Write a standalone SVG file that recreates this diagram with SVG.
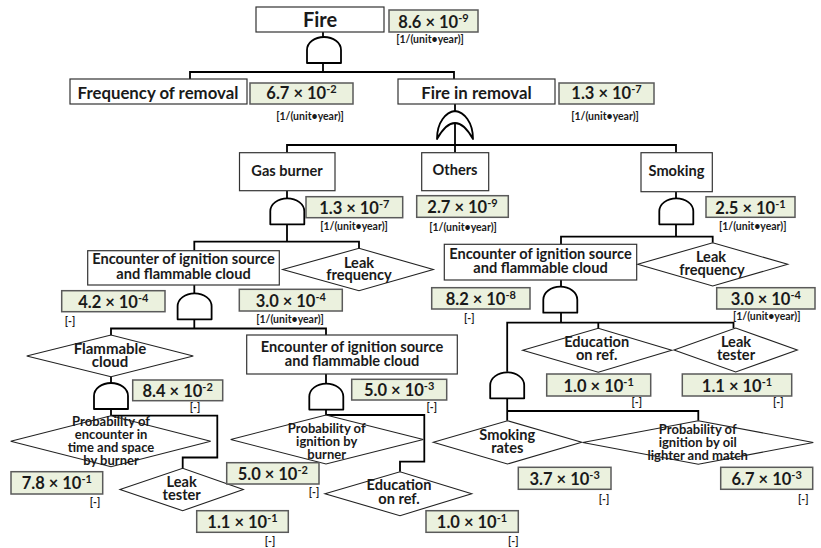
<svg xmlns="http://www.w3.org/2000/svg" width="821" height="548" viewBox="0 0 821 548">
<style>
.box{fill:#fff;stroke:#333;stroke-width:1.2}
.dia{fill:#fff;stroke:#222;stroke-width:1.1}
.val{fill:#EBF1DE;stroke:#5a5a5a;stroke-width:1.5}
.gate{fill:#fff;stroke:#000;stroke-width:1.8;stroke-linejoin:round}
.wire{fill:none;stroke:#000;stroke-width:1.8}
text{font-family:Lato,"Liberation Sans",sans-serif;font-weight:bold;text-anchor:middle;fill:#1a1a1a}
.n{font-size:14.6px}
.s{font-size:13px}
.v{font-size:16.5px}
.u{font-size:10.5px}
.big{font-size:16.8px}
</style>
<defs>
<path id="and" class="gate" d="M-17,13 V0 A17,13 0 0 1 17,0 V13 Z"/>
</defs>

<g id="connectors">
<path class="wire" d="M323,32 V38 M323,63 V72 M190,79 V72 H454 V79"/>
<path class="wire" d="M455,104 V111.5 M455,123 V152.7 M287,152.7 V145 H676 V152.7"/>
<path class="wire" d="M287,190.7 V198.3 M287,224.3 V241.7 M194.3,250.7 V241.7 H359 V248.3"/>
<path class="wire" d="M194.3,285 V293.3 M194.3,319.3 V328.5 M111,335 V328.5 H326 V335"/>
<path class="wire" d="M111,376.7 V383.3 M111,409 V415.7 H217.3 V457.5 H182.7 V468.3"/>
<path class="wire" d="M326,374 V384 M326,409.3 V415 H424.3 V461.7 H400 V471.7"/>
<path class="wire" d="M676,191.7 V198.3 M676,224.3 V236.7 M561,244.3 V236.7 H712.7 V242.7"/>
<path class="wire" d="M561,280 V286.7 M561,312.7 V322.7 M507.2,371.7 V322.7 H733.5 V328.3 M598.3,322.7 V328.3"/>
<path class="wire" d="M507.2,398.3 V411 M507.2,420.7 V411 H698.3 V420.7"/>
</g>

<g id="gates">
<use href="#and" x="324" y="50"/>
<path class="gate" d="M437,139 C437,122 446,112 455,111 C464,112 473,122 473,139 Q455,107 437,139 Z"/>
<use href="#and" x="287.3" y="211.3"/>
<use href="#and" x="676.3" y="211.3"/>
<use href="#and" x="194.6" y="306.3"/>
<use href="#and" x="560.3" y="299.7"/>
<use href="#and" x="111" y="396"/>
<use href="#and" x="326.3" y="396.6"/>
<use href="#and" x="507.2" y="385.3"/>
</g>

<g id="fire">
<rect class="box" x="256" y="7" width="128" height="25"/>
<text x="320" y="26.7" style="font-size:20px">Fire</text>
</g>
<g id="v-fire">
<rect class="val" x="389" y="10" width="89" height="22"/>
<text class="v" x="433.5" y="27.5">8.6 × 10<tspan font-size="11" dy="-6">-9</tspan></text>
<text class="u" x="430" y="43">[1/(unit•year)]</text>
</g>

<g id="freq-removal">
<rect class="box" x="70" y="79" width="177" height="25"/>
<text class="big" x="158" y="98.5">Frequency of removal</text>
</g>
<g id="v-freq-removal">
<rect class="val" x="250" y="83" width="103" height="21"/>
<text class="v" x="301.5" y="99">6.7 × 10<tspan font-size="11" dy="-6">-2</tspan></text>
<text class="u" x="310" y="119.5">[1/(unit•year)]</text>
</g>

<g id="fire-in-removal">
<rect class="box" x="398" y="79" width="157" height="25"/>
<text class="big" x="476.5" y="98.5">Fire in removal</text>
</g>
<g id="v-fire-in-removal">
<rect class="val" x="559" y="83" width="95" height="21"/>
<text class="v" x="606.5" y="99">1.3 × 10<tspan font-size="11" dy="-6">-7</tspan></text>
<text class="u" x="605" y="119.5">[1/(unit•year)]</text>
</g>

<g id="gas-burner">
<rect class="box" x="239.5" y="152.7" width="95.5" height="38"/>
<text class="n" x="287" y="175.5">Gas burner</text>
</g>
<g id="v-gas-burner">
<rect class="val" x="306" y="196.7" width="96.7" height="21"/>
<text class="v" x="354.3" y="213.5">1.3 × 10<tspan font-size="11" dy="-6">-7</tspan></text>
<text class="u" x="354" y="230">[1/(unit•year)]</text>
</g>

<g id="others">
<rect class="box" x="421.7" y="152.7" width="67" height="38"/>
<text class="n" x="455" y="175">Others</text>
</g>
<g id="v-others">
<rect class="val" x="416.7" y="195.7" width="91.6" height="21.6"/>
<text class="v" x="462.5" y="213">2.7 × 10<tspan font-size="11" dy="-6">-9</tspan></text>
<text class="u" x="463" y="231">[1/(unit•year)]</text>
</g>

<g id="smoking">
<rect class="box" x="641" y="152.7" width="71.3" height="39"/>
<text class="n" x="676.5" y="175.5">Smoking</text>
</g>
<g id="v-smoking">
<rect class="val" x="706" y="196.7" width="89" height="20.6"/>
<text class="v" x="750.5" y="213.5">2.5 × 10<tspan font-size="11" dy="-6">-1</tspan></text>
<text class="u" x="752.7" y="230">[1/(unit•year)]</text>
</g>

<g id="enc-gas">
<rect class="box" x="87.7" y="250.7" width="191.6" height="34.3"/>
<text class="n" x="183.5" y="264">Encounter of ignition source</text>
<text class="n" x="183.5" y="278.5">and flammable cloud</text>
</g>
<g id="v-enc-gas">
<rect class="val" x="61.7" y="290.7" width="103.3" height="21"/>
<text class="v" x="113.3" y="308">4.2 × 10<tspan font-size="11" dy="-6">-4</tspan></text>
<text class="u" x="70" y="325">[-]</text>
</g>

<g id="leak-freq-gas">
<polygon class="dia" points="282.7,269.5 359,248.3 433.3,269.5 359,290.7"/>
<text class="n" x="359" y="267.5">Leak</text>
<text class="n" x="359" y="280">frequency</text>
</g>
<g id="v-leak-freq-gas">
<rect class="val" x="239.3" y="289.3" width="103" height="21.7"/>
<text class="v" x="290.8" y="307">3.0 × 10<tspan font-size="11" dy="-6">-4</tspan></text>
<text class="u" x="290" y="323">[1/(unit•year)]</text>
</g>

<g id="enc-smoking">
<rect class="box" x="444.3" y="244.3" width="192.4" height="35.7"/>
<text class="n" x="540.5" y="259">Encounter of ignition source</text>
<text class="n" x="540.5" y="273">and flammable cloud</text>
</g>
<g id="v-enc-smoking">
<rect class="val" x="431.7" y="287.7" width="98.3" height="21.3"/>
<text class="v" x="480.8" y="305">8.2 × 10<tspan font-size="11" dy="-6">-8</tspan></text>
<text class="u" x="469.3" y="322">[-]</text>
</g>

<g id="leak-freq-smoking">
<polygon class="dia" points="637.7,264.3 712.7,242.7 787.7,264.3 712.7,286"/>
<text class="n" x="711" y="262">Leak</text>
<text class="n" x="712" y="275">frequency</text>
</g>
<g id="v-leak-freq-smoking">
<rect class="val" x="716.7" y="287.7" width="98.3" height="21.3"/>
<text class="v" x="765.8" y="305">3.0 × 10<tspan font-size="11" dy="-6">-4</tspan></text>
<text class="u" x="766.7" y="320">[1/(unit•year)]</text>
</g>

<g id="flammable-cloud">
<polygon class="dia" points="26.7,356 111,335 193.3,356 111,376.7"/>
<text x="110" y="353.5" style="font-size:15px">Flammable</text>
<text x="110" y="367" style="font-size:15px">cloud</text>
</g>
<g id="v-flammable-cloud">
<rect class="val" x="132.7" y="380" width="90" height="20.7"/>
<text class="v" x="177.7" y="396.5">8.4 × 10<tspan font-size="11" dy="-6">-2</tspan></text>
<text class="u" x="195" y="411">[-]</text>
</g>

<g id="prob-encounter">
<polygon class="dia" points="10.7,441.2 111,415.7 210.7,441.2 111,466.7"/>
<text class="s" x="111" y="425.5">Probability of</text>
<text class="s" x="111" y="438.8">encounter in</text>
<text class="s" x="111" y="452.1">time and space</text>
<text class="s" x="111" y="465.4">by burner</text>
</g>
<g id="v-prob-encounter">
<rect class="val" x="11" y="471.7" width="91.7" height="22.3"/>
<text class="v" x="56.8" y="488.5">7.8 × 10<tspan font-size="11" dy="-6">-1</tspan></text>
<text class="u" x="95" y="505.5">[-]</text>
</g>

<g id="leak-tester-gas">
<polygon class="dia" points="120,489.5 182.7,468.3 243.3,489.5 182.7,510.7"/>
<text class="n" x="181.7" y="486.5">Leak</text>
<text class="n" x="181.7" y="500">tester</text>
</g>
<g id="v-leak-tester-gas">
<rect class="val" x="196.7" y="510.7" width="91.6" height="21.6"/>
<text class="v" x="242.5" y="527.5">1.1 × 10<tspan font-size="11" dy="-6">-1</tspan></text>
<text class="u" x="270" y="545">[-]</text>
</g>

<g id="enc-burner">
<rect class="box" x="246.7" y="335" width="210.6" height="39"/>
<text class="n" x="352" y="352">Encounter of ignition source</text>
<text class="n" x="352" y="365.5">and flammable cloud</text>
</g>
<g id="v-enc-burner">
<rect class="val" x="351.7" y="379.3" width="95" height="20.7"/>
<text class="v" x="399.2" y="396">5.0 × 10<tspan font-size="11" dy="-6">-3</tspan></text>
<text class="u" x="431.7" y="411">[-]</text>
</g>

<g id="prob-ignition-burner">
<polygon class="dia" points="230.7,439.5 326,415 423.3,439.5 326,464"/>
<text class="s" x="326.7" y="432.5">Probability of</text>
<text class="s" x="326.7" y="446">ignition by</text>
<text class="s" x="326.7" y="459">burner</text>
</g>
<g id="v-prob-ignition-burner">
<rect class="val" x="226.7" y="462.7" width="92.3" height="21.3"/>
<text class="v" x="272.8" y="480">5.0 × 10<tspan font-size="11" dy="-6">-2</tspan></text>
<text class="u" x="314" y="496">[-]</text>
</g>

<g id="education-gas">
<polygon class="dia" points="325,493.7 400,471.7 471.7,493.7 400,515.7"/>
<text class="n" x="399" y="490">Education</text>
<text class="n" x="399" y="503.5">on ref.</text>
</g>
<g id="v-education-gas">
<rect class="val" x="426" y="510.7" width="92.3" height="21.6"/>
<text class="v" x="472" y="527.5">1.0 × 10<tspan font-size="11" dy="-6">-1</tspan></text>
<text class="u" x="513.3" y="545">[-]</text>
</g>

<g id="education-smoking">
<polygon class="dia" points="522.7,350.3 598.3,328.3 671.7,350.3 598.3,372.3"/>
<text class="n" x="596.7" y="347">Education</text>
<text class="n" x="596.7" y="360">on ref.</text>
</g>
<g id="v-education-smoking">
<rect class="val" x="546.7" y="374" width="104" height="22"/>
<text class="v" x="598.7" y="391.5">1.0 × 10<tspan font-size="11" dy="-6">-1</tspan></text>
<text class="u" x="636.7" y="406">[-]</text>
</g>

<g id="leak-tester-smoking">
<polygon class="dia" points="674,350 735.7,328 797.3,350 735.7,372"/>
<text class="n" x="736" y="347">Leak</text>
<text class="n" x="736" y="360">tester</text>
</g>
<g id="v-leak-tester-smoking">
<rect class="val" x="682.3" y="374" width="109.4" height="22"/>
<text class="v" x="737" y="391.5">1.1 × 10<tspan font-size="11" dy="-6">-1</tspan></text>
<text class="u" x="778.3" y="406">[-]</text>
</g>

<g id="smoking-rates">
<polygon class="dia" points="433.3,442.3 507.5,420.7 581.7,442.3 507.5,464"/>
<text class="n" x="507.3" y="440">Smoking</text>
<text class="n" x="507.3" y="452.5">rates</text>
</g>
<g id="v-smoking-rates">
<rect class="val" x="518.3" y="467.3" width="92.7" height="22"/>
<text class="v" x="564.7" y="485">3.7 × 10<tspan font-size="11" dy="-6">-3</tspan></text>
<text class="u" x="604" y="503">[-]</text>
</g>

<g id="prob-ignition-oil">
<polygon class="dia" points="582.7,442.5 698.3,420.7 813.3,442.5 698.3,464.3"/>
<text class="s" x="697.7" y="433.5">Probability of</text>
<text class="s" x="697.7" y="446.5">ignition by oil</text>
<text class="s" x="697.7" y="459.5">lighter and match</text>
</g>
<g id="v-prob-ignition-oil">
<rect class="val" x="720.7" y="467.3" width="92" height="22"/>
<text class="v" x="766.7" y="485">6.7 × 10<tspan font-size="11" dy="-6">-3</tspan></text>
<text class="u" x="803.3" y="503">[-]</text>
</g>
</svg>
